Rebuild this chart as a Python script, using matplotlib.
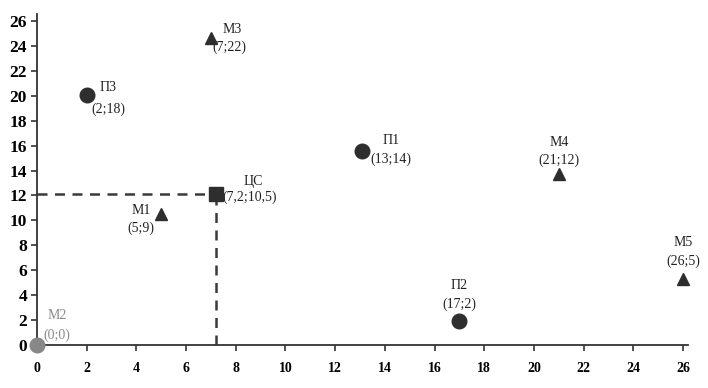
import numpy as np
import matplotlib
matplotlib.use("Agg")
import matplotlib.pyplot as plt

plt.rcParams['font.family'] = ['Liberation Serif', 'DejaVu Serif']

# points: name, stated coordinates, position as drawn on the picture, marker kind
names = ['П3', 'М3', 'ЦС', 'М1', 'П1', 'М4', 'М5', 'П2', 'М2']
coords = ['(2;18)', '(7;22)', '(7,2;10,5)', '(5;9)', '(13;14)', '(21;12)', '(26;5)', '(17;2)', '(0;0)']
xs = [2, 7, 7.2, 5, 13.1, 21, 26, 17, 0]
ys = [20.1, 24.6, 12.1, 10.5, 15.6, 13.7, 5.3, 1.9, 0]
kinds = ['o', '^', 's', '^', 'o', '^', '^', 'o', 'o']
ticks = np.arange(0, 27, 2)

# label offsets in pixels (name, coords) and alignment
offs = {
    'П3': ((13, 7), (5, -15), 'left'),
    'М3': ((12, 9), (2, -9), 'left'),
    'ЦС': ((28, 13), (7, -3), 'left'),
    'М1': ((-10, 4), (-7, -14), 'right'),
    'П1': ((20, 10), (8, -9), 'left'),
    'М4': ((0, 32), (0, 14), 'center'),
    'М5': ((0, 36), (0, 18), 'center'),
    'П2': ((0, 36), (0, 17), 'center'),
    'М2': ((11, 29), (7, 10), 'left'),
}

fig = plt.figure(figsize=(7.08, 3.88), dpi=100)
ax = fig.add_axes([0.052, 0.111, 0.92, 0.854])

# dashed guides to the centre point
cx, cy = xs[2], ys[2]
ax.plot([0, cx], [cy, cy], ls=(0, (4, 3)), color='#3a3a3a', lw=1.8)
ax.plot([cx, cx], [0, cy], ls=(0, (4, 3)), color='#3a3a3a', lw=1.8)

for n, c, x, y, k in zip(names, coords, xs, ys, kinds):
    col = '#888888' if n == 'М2' else '#2e2e2e'
    ms = 10.5 if k != '^' else 9
    ax.plot(x, y, marker=k, ms=ms, color=col, ls='none', clip_on=False, zorder=5)
    o1, o2, ha = offs[n]
    tcol = '#8a8a8a' if n == 'М2' else '#222222'
    ax.annotate(n, (x, y), xytext=o1, textcoords='offset pixels', ha=ha, va='center',
                fontsize=10, color=tcol)
    ax.annotate(c, (x, y), xytext=o2, textcoords='offset pixels', ha=ha, va='center',
                fontsize=10, color=tcol)

ax.set_xlim(0, 26.2)
ax.set_ylim(0, 26.6)
ax.set_xticks(ticks)
ax.set_yticks(ticks)
ax.spines['top'].set_visible(False)
ax.spines['right'].set_visible(False)
for s in ['left', 'bottom']:
    ax.spines[s].set_linewidth(1.3)
    ax.spines[s].set_color('#333333')
ax.tick_params(axis='both', direction='out', length=4, width=1.2, color='#333333')
ax.tick_params(axis='x', labelsize=10, pad=8)
ax.tick_params(axis='y', labelsize=12.5, pad=3)
for lb in ax.get_xticklabels() + ax.get_yticklabels():
    lb.set_fontweight('bold')

fig.savefig('out.png', dpi=100)
